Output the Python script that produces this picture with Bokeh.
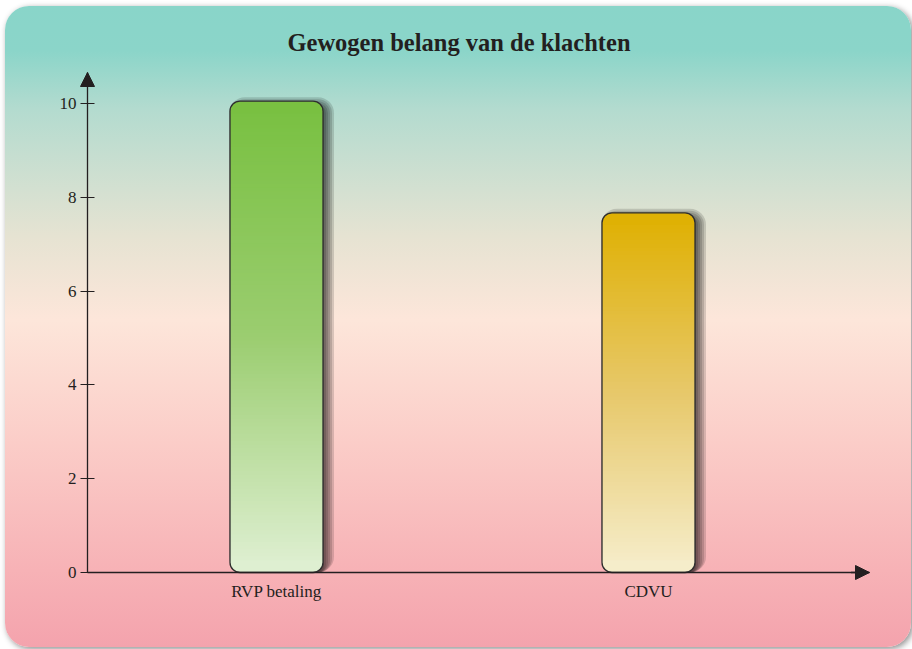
import numpy as np
from bokeh.plotting import figure
from bokeh.models import FixedTicker, Arrow, NormalHead, Range1d, ColumnDataSource
from bokeh.embed import file_html
from bokeh.resources import INLINE

# ---------------- data ----------------
categories = ["RVP betaling", "CDVU"]
values = [10.05, 7.67]
y_ticks = [0, 2, 4, 6, 8, 10]
title_text = "Gewogen belang van de klachten"

# gradient colours of each bar (top, middle, bottom)
top_colors = ["#78c040", "#dfb000"]
mid_colors = ["#9bcd70", "#e7c86a"]
bottom_colors = ["#e0f0d4", "#f6eecd"]

# ---------------- geometry (pixels inside the figure) ----------------
W, H = 906, 641
BL, BR, BT, BB = 30, 29, 55, 20          # frame borders
PX_Y = 46.9          # pixels per y unit
PX_X = 186.0         # pixels per x unit
AX_X_PX = 82         # y axis position
AX_Y_PX = 566        # x axis position (value 0)
TIP_X_PX = 864       # x arrow tip
TIP_Y_PX = 66        # y arrow tip
BAR_W = 0.5
RADIUS = 10
FONT = "Liberation Serif"
INK = "#231f20"

xs = [2 * i + 1 for i in range(len(categories))]
X_AX = xs[0] - 189 / PX_X
x_start = X_AX - (AX_X_PX - BL) / PX_X
x_end = X_AX + ((W - BR) - AX_X_PX) / PX_X
y_start = -((H - BB) - AX_Y_PX) / PX_Y
y_end = (AX_Y_PX - BT) / PX_Y
X_TIP = X_AX + (TIP_X_PX - AX_X_PX) / PX_X
Y_TIP = (AX_Y_PX - TIP_Y_PX) / PX_Y

p = figure(width=W, height=H, output_backend="svg", toolbar_location=None,
           x_range=Range1d(x_start, x_end), y_range=Range1d(y_start, y_end),
           min_border_left=BL, min_border_right=BR,
           min_border_top=BT, min_border_bottom=BB)
p.background_fill_color = None
p.border_fill_color = None
p.outline_line_color = None
p.grid.visible = False
p.styles = {
    "background": "linear-gradient(to bottom, #89d5c9 0%, #8bd5c9 7%, #b3dbcf 16%, "
                  "#e6e3d2 36%, #fde6da 49%, #fbcdc8 68%, #f7b2b6 88%, #f4a3ad 100%)",
    "border-radius": "24px",
    "box-shadow": "2px 2px 6px rgba(0,0,0,0.45)",
    "margin-left": "5px",
    "margin-top": "6px",
}

# title
p.title.text = title_text
p.title.align = "center"
p.title.text_font = FONT
p.title.text_font_style = "bold"
p.title.text_font_size = "24.5px"
p.title.text_color = INK
p.title.standoff = 12

# axes
for ax in (p.xaxis[0], p.yaxis[0]):
    ax.axis_line_color = INK
    ax.axis_line_width = 1.3
    ax.major_tick_line_color = INK
    ax.major_tick_line_width = 1.2
    ax.minor_tick_line_color = None
    ax.major_label_text_font = FONT
    ax.major_label_text_font_size = "17px"
    ax.major_label_text_color = INK

p.yaxis.ticker = FixedTicker(ticks=y_ticks)
p.yaxis.major_tick_in = 7
p.yaxis.major_tick_out = 7
p.yaxis.major_label_standoff = 4
p.yaxis.fixed_location = X_AX
p.yaxis.bounds = (0, Y_TIP)

p.xaxis.ticker = FixedTicker(ticks=xs)
p.xaxis.major_label_overrides = {x: c for x, c in zip(xs, categories)}
p.xaxis.major_tick_in = 0
p.xaxis.major_tick_out = 0
p.xaxis.major_label_standoff = 9
p.xaxis.fixed_location = 0
p.xaxis.bounds = (X_AX, X_TIP)

# arrow heads at the axis ends
p.add_layout(Arrow(end=NormalHead(size=14, fill_color=INK, line_color=INK, line_width=1),
                   x_start=X_AX, y_start=Y_TIP - 0.3, x_end=X_AX, y_end=Y_TIP,
                   line_color=INK, line_width=1.3))
p.add_layout(Arrow(end=NormalHead(size=14, fill_color=INK, line_color=INK, line_width=1),
                   x_start=X_TIP - 0.1, y_start=0, x_end=X_TIP, y_end=0,
                   line_color=INK, line_width=1.3))

# ---------------- bar shadows ----------------
offx = 5 / PX_X
offy = -2 / PX_Y
for s in [-4, -2, 0, 2, 4, 6]:
    p.vbar(x=[x + offx for x in xs], width=BAR_W + 2 * s / PX_X,
           top=[v + s / PX_Y + offy for v in values], bottom=0,
           fill_color="black", fill_alpha=0.14, line_color=None,
           border_radius=max(0, RADIUS + s))


# ---------------- gradient bars ----------------
def hex2rgb(h):
    h = h.lstrip("#")
    return np.array([int(h[i:i + 2], 16) for i in (0, 2, 4)], dtype=float)


def grad(t, top, mid, bot):
    # t = 0 at bottom, 1 at top
    a, b, c = hex2rgb(bot), hex2rgb(mid), hex2rgb(top)
    if t < 0.5:
        col = a + (b - a) * (t / 0.5)
    else:
        col = b + (c - b) * ((t - 0.5) / 0.5)
    return "#%02x%02x%02x" % tuple(int(round(v)) for v in col)


CAP = 0.26
EPS = 0.03
for i, v in enumerate(values):
    tc, mc, bc = top_colors[i], mid_colors[i], bottom_colors[i]
    x = xs[i]
    # bottom cap
    p.vbar(x=[x], width=BAR_W, bottom=[0], top=[CAP + EPS],
           fill_color=grad(CAP / 2 / v, tc, mc, bc), line_color=None,
           border_radius=(0, 0, RADIUS, RADIUS))
    # middle slices
    n = int(np.ceil((v - 2 * CAP) / 0.08))
    edges = np.linspace(CAP, v - CAP, n + 1)
    bots = edges[:-1]
    tops = edges[1:] + EPS
    cols = [grad(((b0 + b1) / 2) / v, tc, mc, bc) for b0, b1 in zip(edges[:-1], edges[1:])]
    src = ColumnDataSource(dict(x=[x] * n, bottom=bots, top=tops, color=cols))
    p.vbar(x="x", width=BAR_W, bottom="bottom", top="top", fill_color="color",
           line_color=None, source=src)
    # top cap
    p.vbar(x=[x], width=BAR_W, bottom=[v - CAP], top=[v],
           fill_color=grad(1 - CAP / 2 / v, tc, mc, bc), line_color=None,
           border_radius=(RADIUS, RADIUS, 0, 0))

# outline
p.vbar(x=xs, width=BAR_W, bottom=0, top=values, fill_color=None,
       line_color="#2e2e2e", line_width=1.3, border_radius=RADIUS)

open("out.html", "w").write(file_html(p, INLINE))
